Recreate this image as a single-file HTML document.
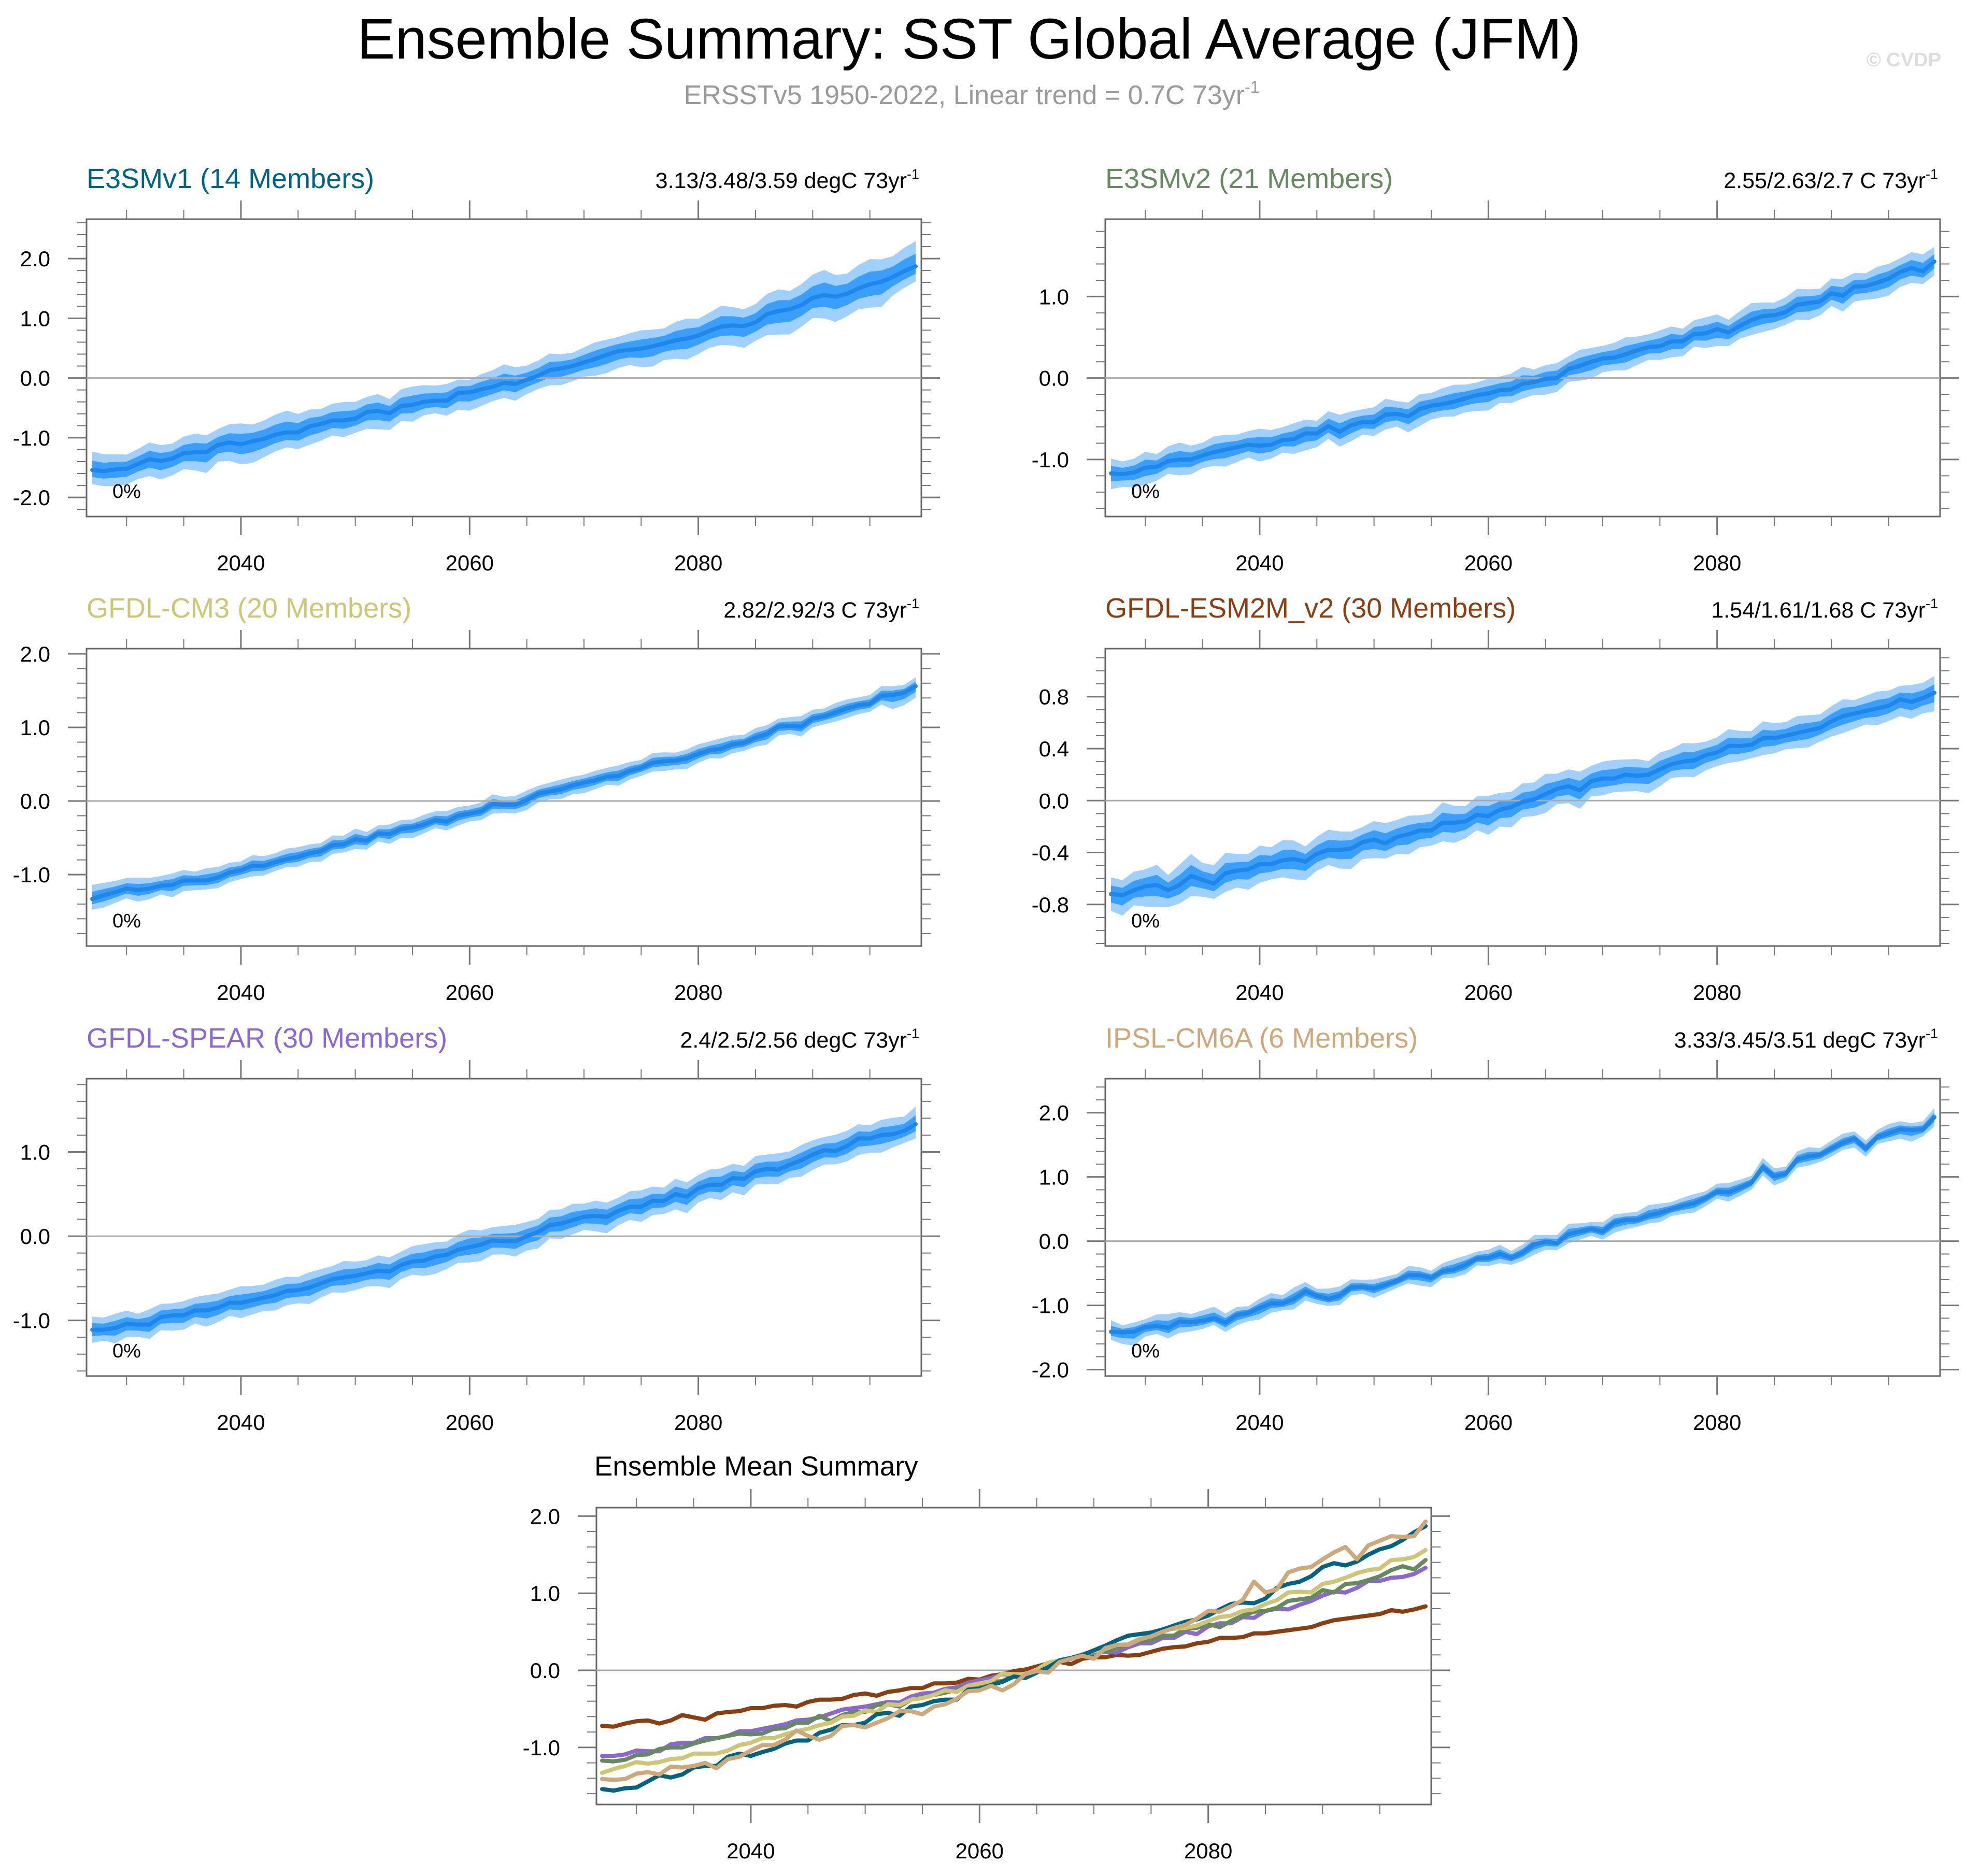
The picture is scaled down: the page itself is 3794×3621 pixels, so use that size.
<!DOCTYPE html>
<html><head><meta charset="utf-8"><title>Ensemble Summary: SST Global Average (JFM)</title>
<style>
html,body{margin:0;padding:0;background:#fff;}
svg{display:block;font-family:"Liberation Sans",Arial,sans-serif;}
</style></head>
<body>
<svg id="fig" width="3794" height="3621" viewBox="0 0 3794 3621" xmlns="http://www.w3.org/2000/svg">
<text x="1870" y="113" font-size="110" text-anchor="middle" fill="#000">Ensemble Summary: SST Global Average (JFM)</text>
<text x="1875" y="201" font-size="52" text-anchor="middle" fill="#999">ERSSTv5 1950-2022, Linear trend = 0.7C 73yr<tspan dy="-22" font-size="32">-1</tspan></text>
<text x="3746" y="128" font-size="38" font-weight="bold" text-anchor="end" fill="#ddd">© CVDP</text>
<g id="panels"></g>
</svg>
<script>
// ---- data ----
const startYear = 2027;
const nYears = 73;
const xTickLabels = ["2040", "2060", "2080"];
const xTickYears = [2040, 2060, 2080];

const meanE3SMv1 = [-1.54,-1.56,-1.53,-1.52,-1.44,-1.36,-1.39,-1.35,-1.26,-1.24,-1.24,-1.12,-1.08,-1.11,-1.06,-1.02,-0.95,-0.91,-0.91,-0.81,-0.77,-0.71,-0.71,-0.68,-0.57,-0.55,-0.59,-0.47,-0.45,-0.40,-0.38,-0.38,-0.25,-0.24,-0.19,-0.15,
 -0.08,-0.10,-0.03,0.04,0.13,0.16,0.20,0.26,0.32,0.39,0.45,0.47,0.49,0.53,0.58,0.63,0.66,0.71,0.79,0.86,0.88,0.87,0.93,1.07,1.12,1.15,1.22,1.34,1.39,1.36,1.41,1.50,1.57,1.61,1.69,1.79,1.87];
const meanE3SMv2 = [-1.17,-1.18,-1.16,-1.10,-1.09,-1.02,-1.00,-1.00,-0.95,-0.91,-0.88,-0.85,-0.82,-0.83,-0.82,-0.76,-0.75,-0.68,-0.68,-0.59,-0.66,-0.58,-0.54,-0.54,-0.45,-0.44,-0.47,-0.38,-0.34,-0.32,-0.29,-0.25,-0.21,-0.19,-0.15,-0.14,
 -0.07,-0.05,-0.01,0.00,0.11,0.15,0.20,0.24,0.25,0.29,0.34,0.38,0.39,0.45,0.45,0.54,0.55,0.60,0.56,0.64,0.71,0.76,0.77,0.81,0.90,0.92,0.94,1.04,1.01,1.12,1.13,1.17,1.22,1.30,1.35,1.31,1.43];
const meanCM3 = [-1.33,-1.28,-1.24,-1.19,-1.21,-1.19,-1.15,-1.14,-1.08,-1.08,-1.08,-1.04,-0.97,-0.94,-0.88,-0.88,-0.83,-0.79,-0.76,-0.71,-0.68,-0.60,-0.59,-0.52,-0.54,-0.44,-0.45,-0.38,-0.36,-0.32,-0.26,-0.28,-0.20,-0.17,-0.14,-0.04,
 -0.05,-0.05,0.01,0.10,0.13,0.16,0.21,0.25,0.28,0.33,0.34,0.41,0.45,0.52,0.54,0.55,0.58,0.64,0.69,0.71,0.77,0.79,0.86,0.91,1.01,1.02,1.01,1.12,1.15,1.20,1.26,1.30,1.32,1.43,1.44,1.47,1.56];
const meanESM2M = [-0.72,-0.73,-0.69,-0.66,-0.65,-0.69,-0.65,-0.58,-0.61,-0.64,-0.56,-0.54,-0.53,-0.49,-0.49,-0.46,-0.45,-0.47,-0.41,-0.38,-0.38,-0.37,-0.32,-0.30,-0.33,-0.28,-0.26,-0.23,-0.23,-0.17,-0.17,-0.16,-0.11,-0.12,-0.07,-0.05,
 -0.01,0.01,0.05,0.09,0.11,0.08,0.15,0.17,0.17,0.20,0.19,0.20,0.24,0.28,0.30,0.31,0.35,0.37,0.42,0.42,0.43,0.48,0.48,0.50,0.52,0.54,0.56,0.61,0.65,0.67,0.69,0.71,0.73,0.78,0.76,0.79,0.83];
const meanSPEAR = [-1.11,-1.11,-1.09,-1.04,-1.05,-1.05,-0.96,-0.94,-0.94,-0.88,-0.88,-0.85,-0.79,-0.79,-0.76,-0.73,-0.70,-0.65,-0.64,-0.61,-0.56,-0.51,-0.49,-0.47,-0.44,-0.41,-0.42,-0.34,-0.30,-0.29,-0.24,-0.22,-0.16,-0.13,-0.10,-0.05,
 -0.06,-0.06,0.00,0.05,0.13,0.15,0.19,0.23,0.24,0.23,0.30,0.35,0.35,0.42,0.42,0.50,0.47,0.57,0.61,0.61,0.69,0.68,0.77,0.80,0.79,0.85,0.90,0.97,1.02,1.01,1.07,1.16,1.16,1.20,1.21,1.25,1.33];
const meanIPSL = [-1.41,-1.42,-1.41,-1.34,-1.32,-1.35,-1.25,-1.26,-1.24,-1.20,-1.27,-1.15,-1.12,-1.04,-0.97,-0.97,-0.90,-0.78,-0.85,-0.90,-0.85,-0.72,-0.71,-0.74,-0.68,-0.62,-0.53,-0.53,-0.57,-0.47,-0.44,-0.37,-0.27,-0.26,-0.20,-0.26,
 -0.18,-0.05,-0.01,-0.03,0.11,0.15,0.19,0.15,0.29,0.33,0.33,0.40,0.44,0.50,0.55,0.59,0.67,0.77,0.76,0.83,0.91,1.15,1.01,1.05,1.27,1.32,1.34,1.44,1.53,1.60,1.44,1.62,1.68,1.74,1.73,1.74,1.93];

// outer-band half widths (ensemble min/max spread about mean)
const spreadE3SMv1 = [0.22,0.20,0.18,0.17,0.18,0.20,0.19,0.18,0.20,0.22,0.20,0.19,0.22,0.25,0.20,0.22,0.24,0.26,0.22,0.20,0.18,0.20,0.22,0.20,0.18,0.20,0.17,0.20,0.22,0.20,0.18,0.20,0.16,0.15,0.18,0.20,0.22,0.20,0.17,0.18,0.20,0.17,0.16,0.18,0.20,0.18,0.17,0.20,0.22,0.20,0.18,0.22,0.24,0.20,0.22,0.25,0.22,0.20,0.22,0.24,0.26,0.22,0.25,0.28,0.30,0.26,0.24,0.28,0.30,0.27,0.25,0.28,0.30];
const spreadE3SMv2 = [0.14,0.12,0.13,0.15,0.12,0.14,0.16,0.13,0.12,0.15,0.14,0.12,0.13,0.16,0.14,0.12,0.15,0.13,0.12,0.14,0.16,0.13,0.12,0.14,0.15,0.12,0.13,0.14,0.12,0.15,0.16,0.13,0.12,0.14,0.13,0.15,0.16,0.12,0.13,0.14,0.12,0.15,0.13,0.12,0.14,0.16,0.13,0.12,0.15,0.14,0.12,0.13,0.15,0.14,0.12,0.14,0.16,0.13,0.12,0.14,0.15,0.13,0.12,0.14,0.16,0.13,0.12,0.15,0.14,0.13,0.15,0.16,0.14];
const spreadCM3 = [0.16,0.14,0.13,0.12,0.14,0.12,0.11,0.13,0.12,0.10,0.14,0.12,0.11,0.10,0.12,0.11,0.10,0.12,0.11,0.10,0.09,0.11,0.10,0.12,0.10,0.09,0.11,0.10,0.09,0.11,0.10,0.12,0.10,0.09,0.10,0.11,0.09,0.10,0.11,0.09,0.10,0.11,0.10,0.09,0.11,0.10,0.12,0.10,0.09,0.11,0.10,0.09,0.10,0.11,0.10,0.12,0.10,0.09,0.11,0.10,0.09,0.10,0.12,0.10,0.09,0.11,0.10,0.09,0.10,0.11,0.10,0.09,0.10];
const spreadESM2M = [0.10,0.09,0.11,0.10,0.12,0.09,0.12,0.13,0.10,0.11,0.12,0.10,0.09,0.11,0.10,0.12,0.11,0.09,0.10,0.12,0.11,0.10,0.09,0.11,0.12,0.10,0.11,0.09,0.10,0.12,0.10,0.09,0.11,0.12,0.10,0.09,0.11,0.10,0.12,0.09,0.10,0.11,0.09,0.10,0.11,0.09,0.10,0.08,0.10,0.09,0.11,0.10,0.08,0.09,0.10,0.09,0.08,0.10,0.09,0.08,0.10,0.09,0.08,0.09,0.10,0.08,0.09,0.10,0.09,0.08,0.10,0.09,0.10];
const spreadSPEAR = [0.12,0.11,0.13,0.12,0.10,0.14,0.12,0.11,0.13,0.12,0.14,0.13,0.12,0.15,0.13,0.12,0.14,0.13,0.12,0.14,0.13,0.12,0.15,0.13,0.12,0.14,0.13,0.12,0.14,0.15,0.13,0.12,0.14,0.16,0.13,0.12,0.14,0.15,0.13,0.12,0.14,0.13,0.15,0.12,0.14,0.13,0.12,0.14,0.15,0.13,0.12,0.14,0.13,0.12,0.14,0.15,0.13,0.12,0.14,0.13,0.15,0.12,0.14,0.13,0.12,0.15,0.14,0.13,0.12,0.14,0.15,0.13,0.16];
const spreadIPSL = [0.10,0.06,0.08,0.07,0.10,0.12,0.08,0.07,0.09,0.10,0.08,0.07,0.06,0.08,0.09,0.07,0.10,0.08,0.06,0.09,0.08,0.07,0.06,0.08,0.07,0.06,0.08,0.07,0.06,0.07,0.09,0.08,0.06,0.07,0.08,0.06,0.07,0.08,0.06,0.07,0.09,0.07,0.06,0.08,0.07,0.06,0.07,0.09,0.08,0.06,0.07,0.08,0.06,0.07,0.08,0.07,0.06,0.08,0.07,0.06,0.07,0.08,0.06,0.07,0.08,0.06,0.07,0.06,0.08,0.07,0.06,0.07,0.08];

const modelNames = ["E3SMv1 (14 Members)","E3SMv2 (21 Members)","GFDL-CM3 (20 Members)","GFDL-ESM2M_v2 (30 Members)","GFDL-SPEAR (30 Members)","IPSL-CM6A (6 Members)"];
const trendTexts = ["3.13/3.48/3.59 degC 73yr","2.55/2.63/2.7 C 73yr","2.82/2.92/3 C 73yr","1.54/1.61/1.68 C 73yr","2.4/2.5/2.56 degC 73yr","3.33/3.45/3.51 degC 73yr"];
const yTicksP1 = [-2,-1,0,1,2];
const yTicksP2 = [-1,0,1];
const yTicksP3 = [-1,0,1,2];
const yTicksP4 = [-0.8,-0.4,0,0.4,0.8];
const yTicksP5 = [-1,0,1];
const yTicksP6 = [-2,-1,0,1,2];
const yTicksSummary = [-1,0,1,2];

// ---- layout / style ----
const NS = "http://www.w3.org/2000/svg";
const root = document.getElementById('panels');
const modelColors = ["#00637f","#66895f","#cdc675","#8b3e0f","#8a68d0","#cda87b"];
const BOX_W = 1611, BOX_H = 574;
const panels = [
  {x:167, y:423, ymin:-2.32, ymax:2.66, ticks:yTicksP1, minor:0.2, bs:1.4, mean:meanE3SMv1, spread:spreadE3SMv1},
  {x:2133, y:423, ymin:-1.70, ymax:1.95, ticks:yTicksP2, minor:0.2, bs:1.3, mean:meanE3SMv2, spread:spreadE3SMv2},
  {x:167, y:1252, ymin:-1.97, ymax:2.07, ticks:yTicksP3, minor:0.2, bs:1.2, mean:meanCM3, spread:spreadCM3},
  {x:2133, y:1252, ymin:-1.12, ymax:1.17, ticks:yTicksP4, minor:0.1, bs:1.3, mean:meanESM2M, spread:spreadESM2M},
  {x:167, y:2082, ymin:-1.66, ymax:1.87, ticks:yTicksP5, minor:0.2, bs:1.3, mean:meanSPEAR, spread:spreadSPEAR},
  {x:2133, y:2082, ymin:-2.10, ymax:2.53, ticks:yTicksP6, minor:0.2, bs:1.8, mean:meanIPSL, spread:spreadIPSL}
];

function el(tag, attrs, parent){
  const e = document.createElementNS(NS, tag);
  for (const k in attrs) e.setAttribute(k, attrs[k]);
  (parent||root).appendChild(e);
  return e;
}
function fmt(v){ return v.toFixed(1).replace('-0.0','0.0'); }

function drawAxes(g, bx, by, bw, bh, ymin, ymax, ticks, minor, xs, ys){
  const box = el('rect',{x:bx,y:by,width:bw,height:bh,fill:'none',stroke:'#666','stroke-width':3},g);
  
  
  const zl = el('line',{x1:bx,x2:bx+bw,y1:ys(0),y2:ys(0),stroke:'#aaa','stroke-width':3},g);
  
  
  for (let yr=2030; yr<=2095; yr+=5){
    const major = xTickYears.indexOf(yr) >= 0;
    const L = major ? 36 : 18;
    const x = xs(yr);
    el('line',{x1:x,x2:x,y1:by,y2:by-L,stroke:'#777','stroke-width':major?3:2},g);
    el('line',{x1:x,x2:x,y1:by+bh,y2:by+bh+L,stroke:'#777','stroke-width':major?3:2},g);
  }
  xTickYears.forEach((yr,i)=>{
    const t = el('text',{x:xs(yr),y:by+bh+104,'font-size':42,'text-anchor':'middle',fill:'#000'},g);
    t.textContent = xTickLabels[i];
    
    
  });
  const start = Math.ceil(ymin/minor - 1e-6);
  const end = Math.floor(ymax/minor + 1e-6);
  for (let k=start; k<=end; k++){
    const v = k*minor;
    const major = ticks.some(t=>Math.abs(t-v)<1e-6);
    const L = major ? 36 : 18;
    const y = ys(v);
    el('line',{x1:bx,x2:bx-L,y1:y,y2:y,stroke:'#777','stroke-width':major?3:2},g);
    el('line',{x1:bx+bw,x2:bx+bw+L,y1:y,y2:y,stroke:'#777','stroke-width':major?3:2},g);
  }
  ticks.forEach(v=>{
    const t = el('text',{x:bx-70,y:ys(v)+15,'font-size':42,'text-anchor':'end',fill:'#000'},g);
    t.textContent = fmt(v);
    
    
  });
}

function pathFrom(xsArr, ysArr){
  return xsArr.map((x,i)=>(i?'L':'M')+x.toFixed(1)+' '+ysArr[i].toFixed(1)).join(' ');
}

panels.forEach((p,pi)=>{
  const g = el('g',{});
  
  
  const xs = yr => p.x + (yr - (startYear-0.5)) / nYears * BOX_W;
  const ys = v => p.y + (p.ymax - v) / (p.ymax - p.ymin) * BOX_H;
  const title = el('text',{x:p.x,y:p.y-60,'font-size':54,fill:modelColors[pi]},g);
  title.textContent = modelNames[pi];
  
  
  const tr = el('text',{x:p.x+BOX_W-4,y:p.y-60,'font-size':43,'text-anchor':'end',fill:'#000'},g);
  tr.textContent = trendTexts[pi];
  const sup = el('tspan',{dy:-18,'font-size':27},tr);
  sup.textContent = '-1';
  
  

  const s = p.spread.map(v=>v*p.bs);
  const px = p.mean.map((v,i)=>xs(startYear+i));
  const upO = p.mean.map((v,i)=>ys(v + s[i]));
  const loO = p.mean.map((v,i)=>ys(v - s[(i+3)%nYears]));
  const upI = p.mean.map((v,i)=>ys(v + s[i]*0.5));
  const loI = p.mean.map((v,i)=>ys(v - s[(i+3)%nYears]*0.5));
  const outer = el('path',{d:pathFrom(px,upO)+' '+pathFrom(px.slice().reverse(),loO.slice().reverse()).replace('M','L')+' Z',fill:'#a0d0ff'},g);
  
  
  const inner = el('path',{d:pathFrom(px,upI)+' '+pathFrom(px.slice().reverse(),loI.slice().reverse()).replace('M','L')+' Z',fill:'#3a9eff'},g);
  
  
  drawAxes(g, p.x, p.y, BOX_W, BOX_H, p.ymin, p.ymax, p.ticks, p.minor, xs, ys);
  const line = el('path',{d:pathFrom(px, p.mean.map(ys)),fill:'none',stroke:'#1f86ea','stroke-width':8,'stroke-linejoin':'round','stroke-linecap':'round'},g);
  
  
  const pct = el('text',{x:p.x+50,y:p.y+BOX_H-36,'font-size':38,fill:'#000'},g);
  pct.textContent = '0%';
  
  
});

// ---- summary panel ----
(function(){
  const bx=1151, by=2910, bw=1611, bh=573, ymin=-1.74, ymax=2.11;
  const g = el('g',{});
  
  
  const xs = yr => bx + (yr - (startYear-0.5)) / nYears * bw;
  const ys = v => by + (ymax - v) / (ymax - ymin) * bh;
  const t = el('text',{x:1147,y:2848,'font-size':53,fill:'#000'},g);
  t.textContent = 'Ensemble Mean Summary';
  
  
  drawAxes(g, bx, by, bw, bh, ymin, ymax, yTicksSummary, 0.2, xs, ys);
  const series = [meanE3SMv1, meanE3SMv2, meanCM3, meanESM2M, meanSPEAR, meanIPSL];
  const order = [3,4,1,2,0,5];
  order.forEach(si=>{
    const arr = series[si];
    const px = arr.map((v,i)=>xs(startYear+i));
    const l = el('path',{d:pathFrom(px, arr.map(ys)),fill:'none',stroke:modelColors[si],'stroke-width':8,'stroke-linejoin':'round','stroke-linecap':'round'},g);
    
    
  });
})();
</script>
</body></html>
